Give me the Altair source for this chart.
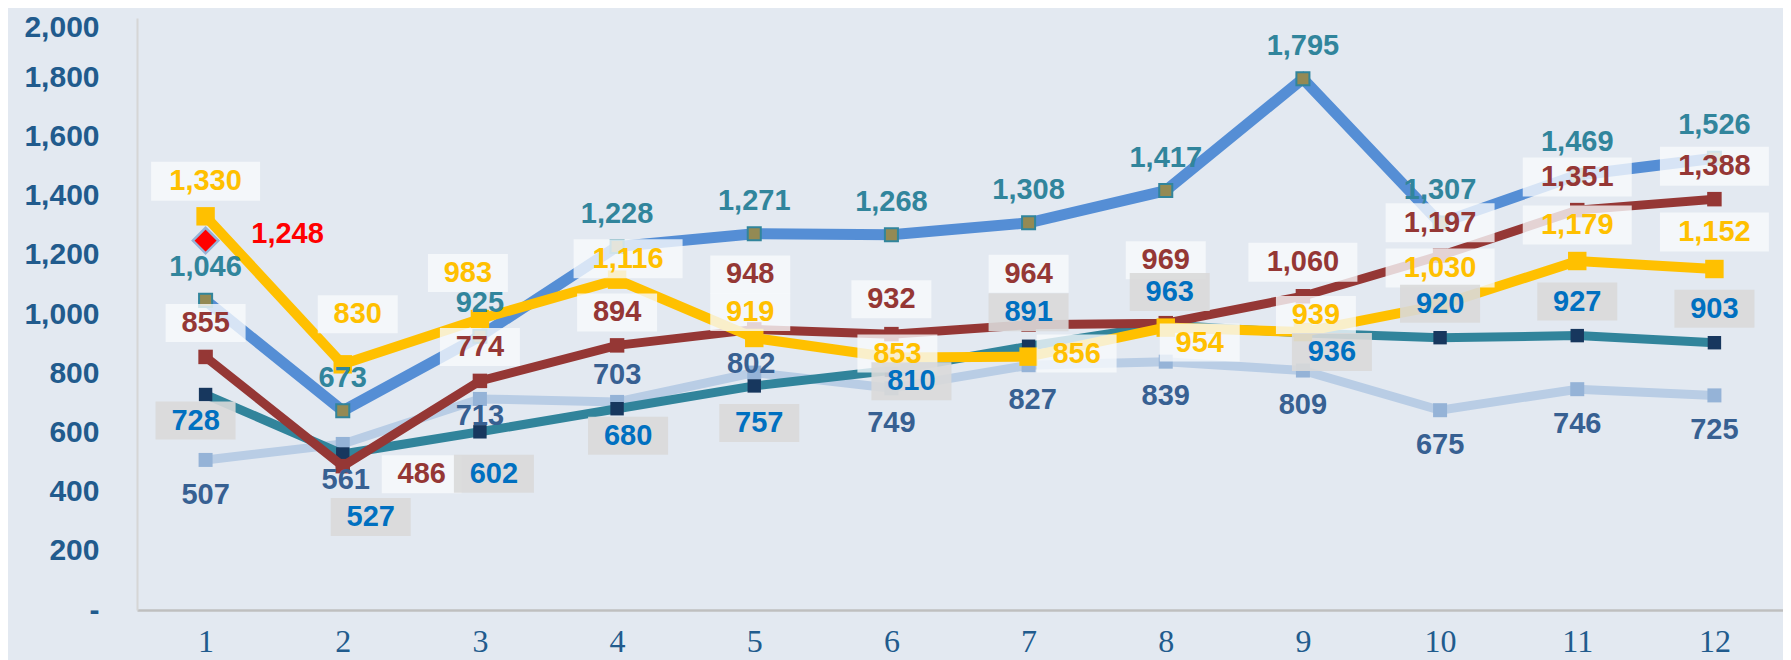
import altair as alt
import pandas as pd

# ---------------- data ----------------
months = [1, 2, 3, 4, 5, 6, 7, 8, 9, 10, 11, 12]
series_a = [1046, 673, 925, 1228, 1271, 1268, 1308, 1417, 1795, 1307, 1469, 1526]
series_b = [855, 486, 774, 894, 948, 932, 964, 969, 1060, 1197, 1351, 1388]
series_c = [1330, 830, 983, 1116, 919, 853, 856, 954, 939, 1030, 1179, 1152]
series_d = [728, 527, 602, 680, 757, 810, 891, 963, 936, 920, 927, 903]
series_e = [507, 561, 713, 703, 802, 749, 827, 839, 809, 675, 746, 725]
highlight_month = [1]
highlight_value = [1248]
y_ticks = [0, 200, 400, 600, 800, 1000, 1200, 1400, 1600, 1800, 2000]

# ---------------- label placement (pixel offsets of label centre from point) ----------------
a_dx = [0] * 12
a_dy = [-33] * 12
b_dx = [0, 79, 0, 0, -4, 0, 0, 0, 0, 0, 0, 0]
b_dy = [-34, 8, -34, -33, -55, -35, -51, -63, -34, -33, -33, -33]
c_dx = [0, 15, -12, 11, -4, 6, 48, 34, 13, 0, 0, 0]
c_dy = [-35, -50, -46, -21, -26, -4, -3, 15, -17, -37, -36, -37]
d_dx = [-10, 28, 14, 11, 5, 20, 0, 4, 29, 0, 0, 0]
d_dy = [26, 63, 42, 27, 37, 11, -34, -33, 19, -34, -34, -34]
e_dx = [0, 3, 0, 0, -3, 0, 4, 0, 0, 0, 0, 0]
e_dy = [35, 36, 17, -27, -9, 35, 35, 34, 34, 35, 35, 35]
hl_dx = [82]
hl_dy = [-7]


def frame(xs, values, dxs, dys):
    rows = []
    for m, v, dx, dy in zip(xs, values, dxs, dys):
        lab = f"{v:,}"
        w = 109 if len(lab) > 3 else 80
        h = 39 if len(lab) > 3 else 38
        box = f"M{dx - w / 2},{dy - h / 2}h{w}v{h}h{-w}Z"
        rows.append(dict(month=m, value=v, label=lab, dx=dx, dy=dy, box=box))
    return pd.DataFrame(rows)


df_a = frame(months, series_a, a_dx, a_dy)
df_b = frame(months, series_b, b_dx, b_dy)
df_c = frame(months, series_c, c_dx, c_dy)
df_d = frame(months, series_d, d_dx, d_dy)
df_e = frame(months, series_e, e_dx, e_dy)
df_h = frame(highlight_month, highlight_value, hl_dx, hl_dy)

AXIS_BLUE = "#215B8D"

x_enc = alt.X(
    "month:Q",
    scale=alt.Scale(domain=[0.5, 12.5], nice=False, zero=False),
    axis=alt.Axis(
        values=months, format="d", title=None, grid=False, ticks=False, tickSize=0,
        labelPadding=16, labelFont="Liberation Serif", labelFontSize=32,
        labelColor=AXIS_BLUE, domainColor="#BFBFBF", domainWidth=2.5,
        labelFlush=False, labelOverlap=False,
    ),
)
y_enc = alt.Y(
    "value:Q",
    scale=alt.Scale(domain=[0, 2000], nice=False),
    axis=alt.Axis(
        values=y_ticks, title=None, grid=False, ticks=False, tickSize=0,
        labelPadding=38, labelFont="Liberation Sans", labelFontWeight="bold",
        labelFontSize=30, labelColor=AXIS_BLUE, domainColor="#D6D6D6", domainWidth=2,
        labelOverlap=False,
        labelOffset={"condition": {"test": "datum.value == 2000", "value": 9}, "value": 0},
        labelExpr="datum.value == 0 ? '-\u00a0\u00a0\u00a0' : format(datum.value, ',')",
    ),
)


def line_layer(df, color, width):
    return alt.Chart(df).mark_line(color=color, strokeWidth=width).encode(x=x_enc, y=y_enc)


def marker_layer(df, fill, size, stroke=None, sw=0):
    kw = dict(fill=fill, size=size, opacity=1, fillOpacity=1)
    if stroke:
        kw.update(stroke=stroke, strokeWidth=sw)
    else:
        kw.update(strokeWidth=0)
    return alt.Chart(df).mark_square(**kw).encode(x=x_enc, y=y_enc)


def box_layer(df, fill, opacity):
    return alt.Chart(df).mark_point(filled=True, fill=fill, fillOpacity=opacity, opacity=1,
                                    strokeWidth=0).encode(
        x=x_enc, y=y_enc,
        shape=alt.Shape("box:N", scale=None, legend=None),
        size=alt.value(4),
    )


def text_layer(df, color):
    return alt.Chart(df).mark_text(
        font="Liberation Sans", fontWeight="bold", fontSize=29, color=color,
        align="center", baseline="middle",
        dx=alt.ExprRef(expr="datum.dx"), dy=alt.ExprRef(expr="datum.dy"),
    ).encode(x=x_enc, y=y_enc, text="label:N")


layers = [
    line_layer(df_e, "#B9CDE5", 9), marker_layer(df_e, "#95B3D7", 196),
    line_layer(df_d, "#31849B", 9), marker_layer(df_d, "#17375E", 180),
    line_layer(df_a, "#558ED5", 11), marker_layer(df_a, "#948A54", 170, "#31859C", 2),
    line_layer(df_b, "#953735", 9), marker_layer(df_b, "#953735", 210),
    line_layer(df_c, "#FFC000", 10), marker_layer(df_c, "#FFC000", 340),
    alt.Chart(df_h).mark_point(shape="diamond", filled=True, fill="#FF0000", stroke="#95B3D7",
                               strokeWidth=2.5, size=650, opacity=1).encode(x=x_enc, y=y_enc),
    box_layer(df_b, "#F8FAFC", 0.8),
    box_layer(df_c, "#F8FAFC", 0.8),
    box_layer(df_d, "#D9D9D9", 0.9),
    text_layer(df_e, "#376092"),
    text_layer(df_a, "#31859C"),
    text_layer(df_d, "#0070C0"),
    text_layer(df_b, "#953735"),
    text_layer(df_c, "#FFC000"),
    text_layer(df_h, "#FF0000"),
]

chart = alt.layer(*layers).properties(
    width=1646, height=592,
    padding={"left": 129, "top": 10, "right": 0, "bottom": 50},
    autosize=alt.AutoSizeParams(type="none"),
    background="#E3E9F1",
).configure_view(strokeWidth=0)

chart.save("out.html", embed_options={"renderer": "svg", "actions": False})
